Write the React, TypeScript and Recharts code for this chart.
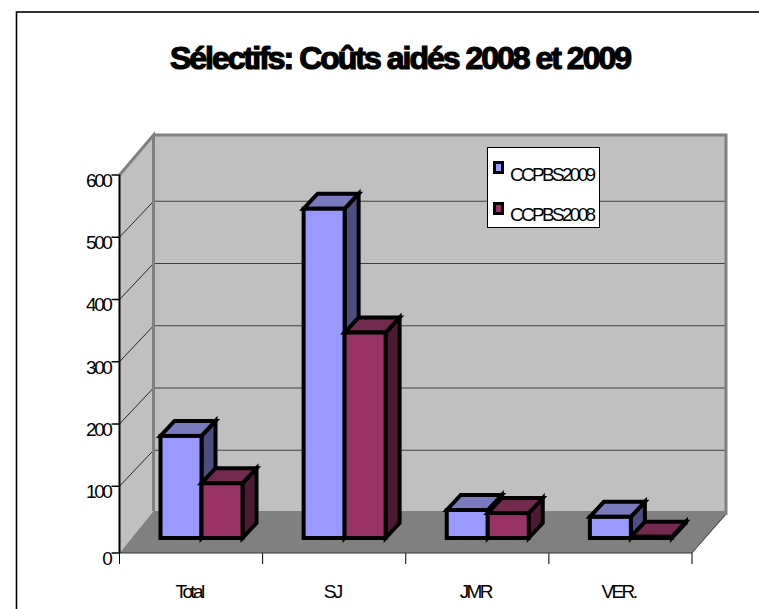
import React from "react";
import { BarChart, Bar, XAxis, YAxis, Legend, usePlotArea } from "recharts";

const categories = ["Total", "SJ", "JMR", "VER."];
const ccpbs2009 = [164, 529, 45, 34];
const ccpbs2008 = [88, 330, 40, 2];
const yTicks = [0, 100, 200, 300, 400, 500, 600];

// the 0 tick sits a bit under the real zero, the floor of the 3D box has some thickness
const FLOOR_VALUE = -7.2;

const chartData = categories.map((name, i) => ({
  name,
  CCPBS2009: ccpbs2009[i],
  CCPBS2008: ccpbs2008[i],
}));

const FACES: Record<string, { top: string; side: string }> = {
  "#9999ff": { top: "#7a7abf", side: "#4d4d80" },
  "#993366": { top: "#74294f", side: "#4d1a33" },
};

const font = "'Liberation Sans', Arial, sans-serif";

// 3D walls behind the bars
const Walls = () => {
  const plot = usePlotArea();
  if (!plot) return null;
  const left = plot.x;
  const right = plot.x + plot.width;
  const top = plot.y;
  const bottom = plot.y + plot.height;
  const dx = 34;
  const backTop = top - 40;
  const backBottom = bottom - 42;
  const yOf = (v: number) =>
    bottom - ((v - FLOOR_VALUE) / (600 - FLOOR_VALUE)) * plot.height;
  const band = plot.width / categories.length;

  return (
    <g>
      <rect x={left + dx} y={backTop} width={plot.width} height={backBottom - backTop + 4} fill="#c0c0c0" />
      <polygon
        points={`${left},${top} ${left + dx},${backTop} ${left + dx},${backBottom} ${left},${bottom}`}
        fill="#c0c0c0"
      />
      {yTicks.slice(1, 6).map((v) => (
        <g key={v}>
          <line x1={left + dx} x2={right + dx} y1={yOf(v) - 36} y2={yOf(v) - 36} stroke="#404040" strokeWidth={1.2} />
          <line x1={left} x2={left + dx} y1={yOf(v)} y2={yOf(v) - 36} stroke="#000" strokeWidth={0.8} />
        </g>
      ))}
      <polygon
        points={`${left},${bottom} ${right},${bottom} ${right + dx},${backBottom + 4} ${right + dx},${backBottom} ${left + dx},${backBottom}`}
        fill="#808080"
      />
      <polyline
        points={`${left},${top} ${left + dx},${backTop} ${left + dx},${backBottom}`}
        fill="none"
        stroke="#808080"
        strokeWidth={3}
      />
      <polyline
        points={`${left + dx},${backTop} ${right + dx},${backTop} ${right + dx},${backBottom + 4}`}
        fill="none"
        stroke="#808080"
        strokeWidth={3}
      />
      <line x1={right} y1={bottom} x2={right + dx - 1} y2={backBottom + 4} stroke="#404040" strokeWidth={1} />
      {categories.map((c, i) => (
        <line
          key={c}
          x1={left + band * (i + 1)}
          x2={left + band * (i + 1)}
          y1={bottom}
          y2={bottom + 11}
          stroke="#000"
          strokeWidth={1}
        />
      ))}
      <line x1={left} x2={left} y1={bottom} y2={bottom + 11} stroke="#000" strokeWidth={1} />
    </g>
  );
};

// bar with top and side faces, pushed back a little into the box
const Box3D = (props: any) => {
  const { x, y, width, height, fill } = props;
  const shiftX = 10;
  const shiftY = -10.5;
  const ox = 14;
  const oy = 15;
  const l = x + shiftX;
  const r = l + width;
  const t = y + shiftY;
  const b = t + height;
  const common = { stroke: "#000", strokeWidth: 4, strokeLinejoin: "miter" as const, strokeMiterlimit: 10 };
  return (
    <g>
      <polygon points={`${r},${t} ${r + ox},${t - oy} ${r + ox},${b - oy} ${r},${b}`} fill={FACES[fill].side} {...common} />
      <polygon points={`${l},${t} ${l + ox},${t - oy} ${r + ox},${t - oy} ${r},${t}`} fill={FACES[fill].top} {...common} />
      <rect x={l} y={t} width={width} height={height} fill={fill} {...common} />
    </g>
  );
};

const LegendBox = ({ payload }: any) => (
  <div
    style={{
      width: 113,
      height: 81,
      boxSizing: "border-box",
      background: "#fff",
      border: "1px solid #000",
      position: "relative",
      fontFamily: font,
      fontSize: 19,
      letterSpacing: -2.7,
      color: "#000",
    }}
  >
    {(payload || []).map((p: any, i: number) => (
      <div key={p.value}>
        <div
          style={{
            position: "absolute",
            left: 5,
            top: 13 + i * 40.5,
            width: 5,
            height: 7,
            border: "3px solid #000",
            background: p.color,
          }}
        />
        <div style={{ position: "absolute", left: 22, top: 17 + i * 40, lineHeight: "20px" }}>{p.value}</div>
      </div>
    ))}
  </div>
);

export default function App() {
  return (
    <div style={{ position: "absolute", left: 0, top: 0, width: 759, height: 609, background: "#fff" }}>
      <BarChart
        width={759}
        height={609}
        data={chartData}
        barSize={41}
        barGap={0}
        margin={{ top: 175, right: 67, bottom: 0, left: 59.5 }}
      >
        <rect x={16.5} y={12} width={800} height={640} fill="#fff" stroke="#000" strokeWidth={1.6} />
        <text
          x={400}
          y={69}
          textAnchor="middle"
          fontFamily={font}
          fontWeight="bold"
          fontSize={32}
          letterSpacing={-2}
          stroke="#000"
          strokeWidth={1.2}
          fill="#000"
        >
          Sélectifs: Coûts aidés 2008 et 2009
        </text>
        <Walls />
        <XAxis
          dataKey="name"
          height={56}
          tickLine={false}
          axisLine={{ stroke: "#333", strokeWidth: 1 }}
          tickMargin={26}
          interval={0}
          tick={{ fill: "#000", fontFamily: font, fontSize: 19, letterSpacing: -2.6, dx: -2 }}
        />
        <YAxis
          width={60}
          domain={[FLOOR_VALUE, 600]}
          ticks={[FLOOR_VALUE, ...yTicks.slice(1)]}
          tickFormatter={(v: number) => (v < 0 ? "0" : String(v))}
          interval={0}
          allowDataOverflow
          tickSize={8}
          tickMargin={1}
          axisLine={{ stroke: "#000", strokeWidth: 2 }}
          tickLine={{ stroke: "#000", strokeWidth: 1.5 }}
          tick={{ fill: "#000", fontFamily: font, fontSize: 19, letterSpacing: -2.4, dy: 5 }}
        />
        <Bar dataKey="CCPBS2009" fill="#9999ff" isAnimationActive={false} shape={Box3D} />
        <Bar dataKey="CCPBS2008" fill="#993366" isAnimationActive={false} shape={Box3D} />
        <Legend
          layout="horizontal"
          verticalAlign="middle"
          align="center"
          itemSorter={null}
          content={LegendBox}
          wrapperStyle={{ left: 487, top: 147, width: 113, height: 81 }}
        />
      </BarChart>
    </div>
  );
}
